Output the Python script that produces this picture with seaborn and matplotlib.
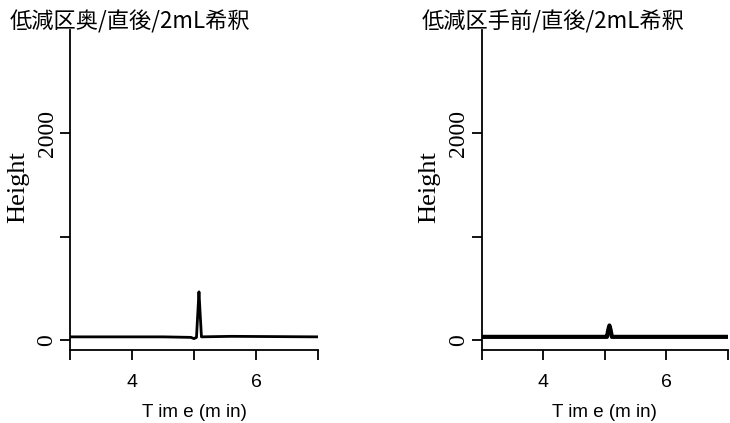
import matplotlib
matplotlib.use("Agg")
import matplotlib.pyplot as plt
import seaborn as sns
import pandas as pd

sns.set_theme(style="white")
plt.rcParams['font.family'] = ['DejaVu Sans']
plt.rcParams['text.color'] = 'black'
plt.rcParams['axes.labelcolor'] = 'black'
plt.rcParams['xtick.color'] = 'black'
plt.rcParams['ytick.color'] = 'black'

titles = ["低減区奥/直後/2mL希釈", "低減区手前/直後/2mL希釈"]

# chromatogram points (time in min, height)
time_left = [3.0, 4.5, 4.95, 5.0, 5.04, 5.06, 5.08, 5.10, 5.12, 5.6, 7.0]
height_left = [35, 35, 30, 18, 30, 250, 470, 250, 35, 40, 35]
time_right = [3.0, 4.5, 5.0, 5.04, 5.06, 5.08, 5.10, 5.12, 7.0]
height_right = [35, 35, 35, 35, 100, 145, 100, 35, 35]

x_ticks = [3, 4, 5, 6, 7]
x_ticklabels = ["", "4", "", "6", ""]
y_ticks = [0, 1000, 2000]
y_ticklabels = ["0", "", "2000"]

W, H = 730, 423
fig = plt.figure(figsize=(W / 100, H / 100), dpi=100)

panels = [
    (time_left, height_left, 70, 318, 2.0, 10),
    (time_right, height_right, 481.5, 727.5, 3.0, 422),
]
for (t, h, x0, x1, lw, tx), title in zip(panels, titles):
    ax = fig.add_axes([x0 / W, 1 - 350 / H, (x1 - x0) / W, 320 / H])
    df = pd.DataFrame({"Time": t, "Height": h})
    sns.lineplot(data=df, x="Time", y="Height", ax=ax, color="black",
                 linewidth=lw, sort=False, estimator=None)
    ax.set_xlim(3, 7)
    ax.set_ylim(-92, 3000)
    for s in ["top", "right"]:
        ax.spines[s].set_visible(False)
    for s in ["left", "bottom"]:
        ax.spines[s].set_color("black")
        ax.spines[s].set_linewidth(1.3)
    ax.set_xticks(x_ticks)
    ax.set_xticklabels(x_ticklabels, fontsize=14, family="Liberation Sans")
    ax.set_yticks(y_ticks)
    ax.set_yticklabels(y_ticklabels, fontsize=17, family="Liberation Serif",
                       rotation=90, va="center")
    ax.tick_params(axis="both", direction="out", length=7, width=1.3,
                   color="black", bottom=True, left=True)
    ax.tick_params(axis="x", pad=10)
    ax.tick_params(axis="y", pad=2)
    ax.set_xlabel("T im e (m in)", fontsize=13.5, family="Liberation Sans")
    ax.set_ylabel("Height", fontsize=19, family="Liberation Serif")
    ax.xaxis.set_label_coords(0.5, -0.17)
    ax.yaxis.set_label_coords(-41 / (x1 - x0), 0.51)
    fig.text(tx / W, 1 - 22 / H, title, fontsize=16,
             family=["Noto Sans CJK JP", "DejaVu Sans"], va="center", ha="left")

fig.savefig("out.png", dpi=100)
